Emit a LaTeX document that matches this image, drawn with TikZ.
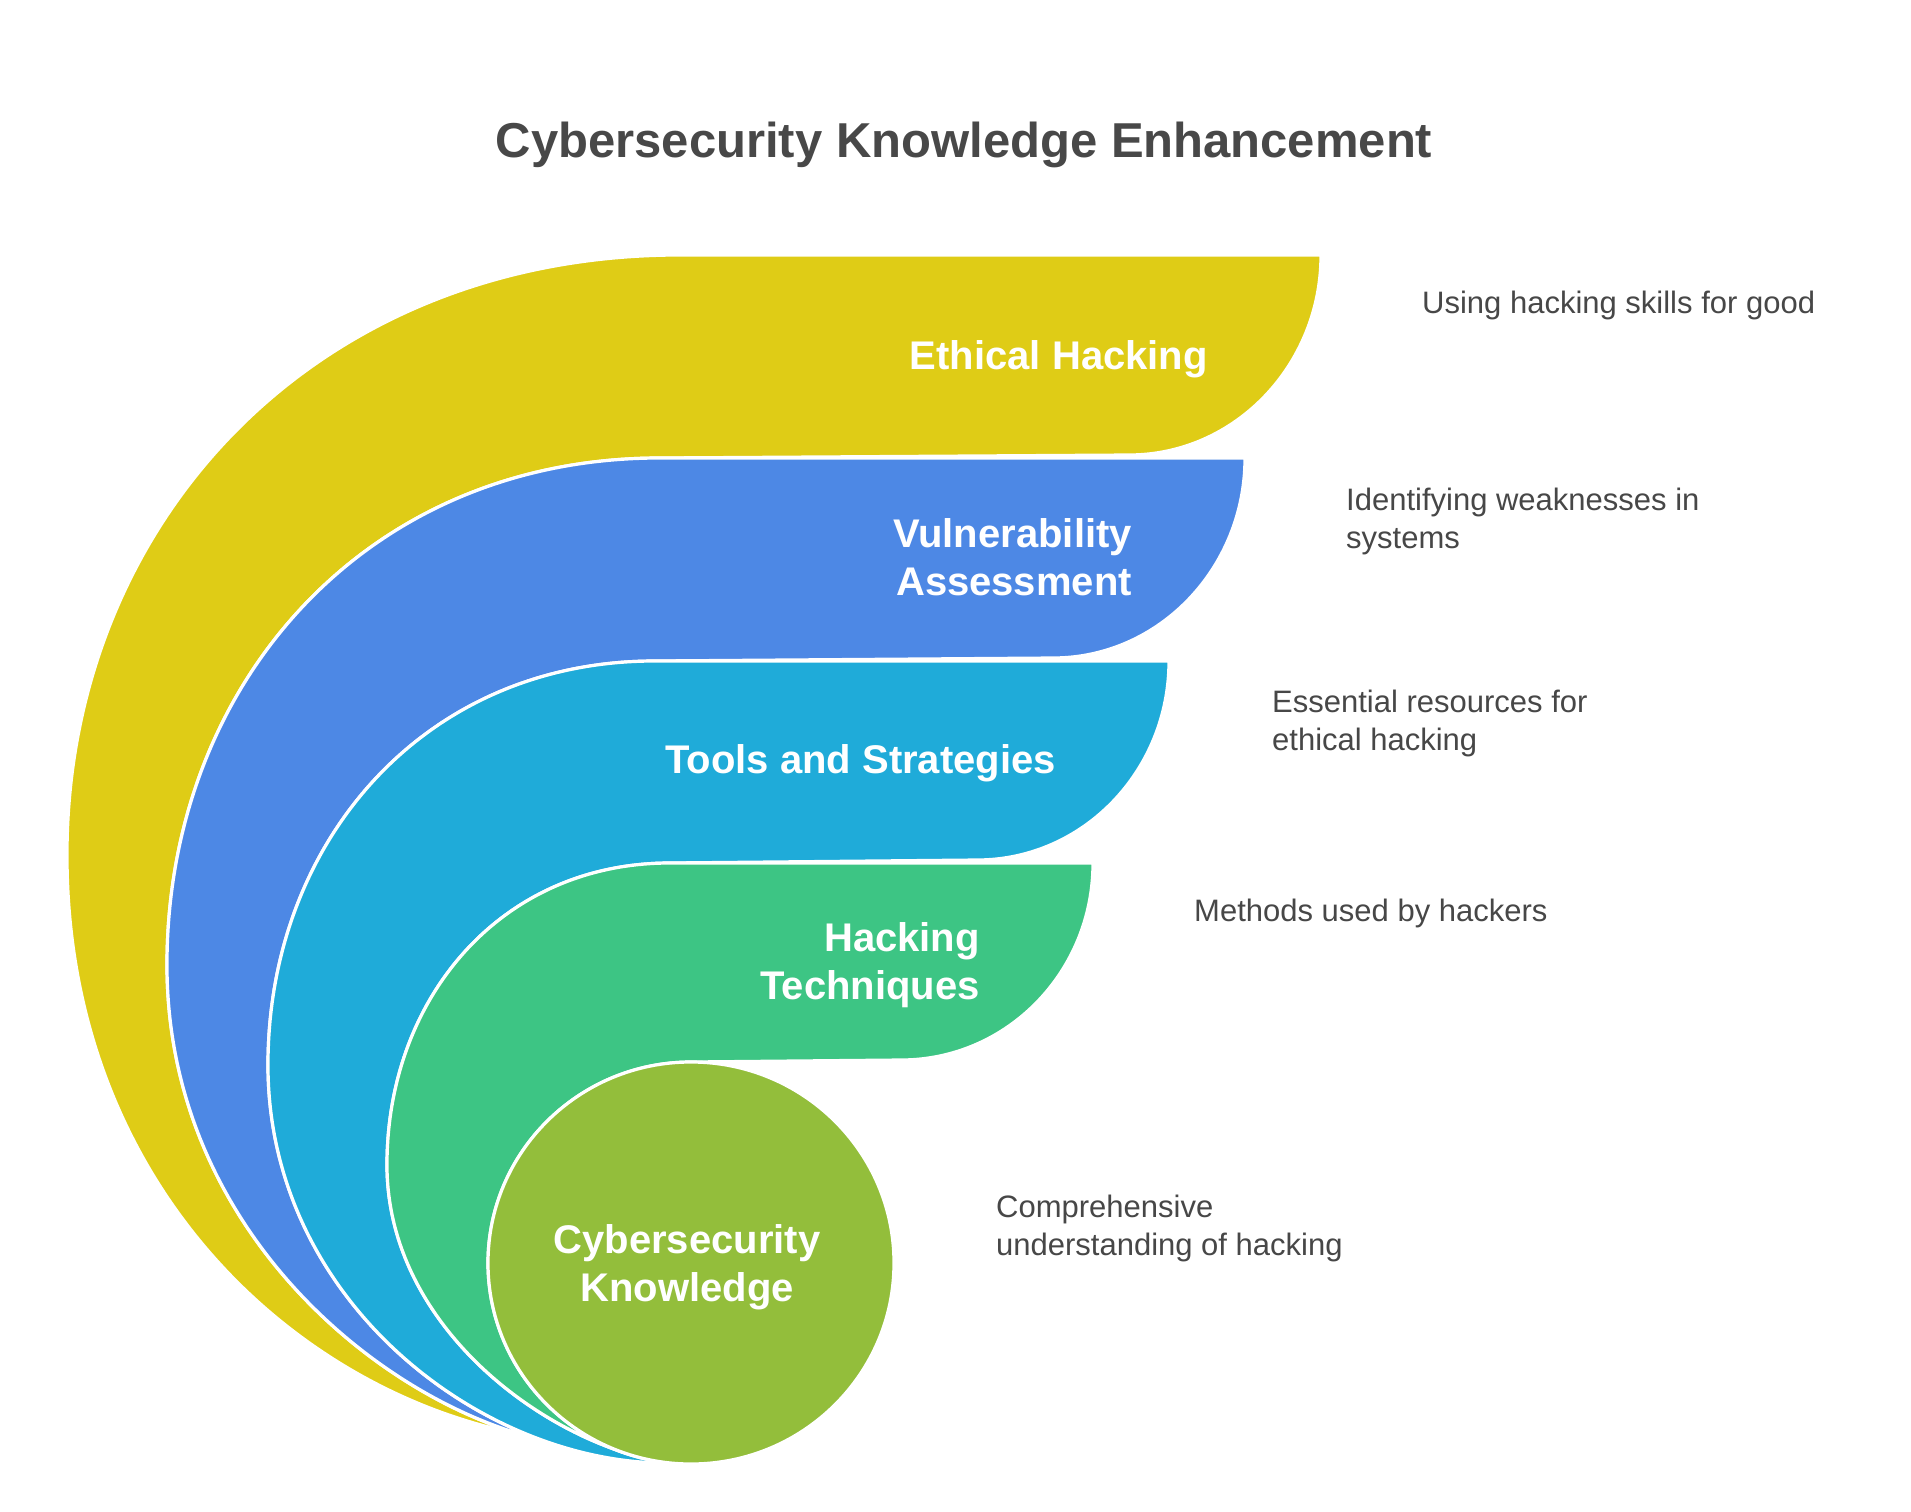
\documentclass[tikz,border=0pt]{standalone}
\usepackage{fontspec}
\setmainfont{Liberation Sans}
\definecolor{yel}{HTML}{DFCC16}
\definecolor{blu}{HTML}{4D88E5}
\definecolor{cya}{HTML}{1FABD9}
\definecolor{grn}{HTML}{3DC584}
\definecolor{oli}{HTML}{93BE3B}
\definecolor{ttl}{HTML}{484848}
\definecolor{txt}{HTML}{474747}
\begin{document}
\begin{tikzpicture}[x=1pt,y=-1pt,
  band/.style={draw=white, line width=3.2pt, line join=round},
  lbl/.style={text=white, inner sep=0pt, font=\bfseries\fontsize{40}{48.5}\selectfont},
  desc/.style={text=txt, inner sep=0pt, font=\fontsize{31}{38}\selectfont}]
\useasboundingbox (0,0) rectangle (1911,1512);
\fill[white] (0,0) rectangle (1911,1512);

% tip points on the following outlines
\path (268,1065) .. controls (268,1300) and (480,1462) .. (665,1463) coordinate[pos=0.78] (Btip);
\path (167,965) .. controls (167,1225) and (375,1400) .. (Btip) coordinate[pos=0.96] (Ytip);
\coordinate (Ctip) at (665,1463);
\coordinate (Gtip) at (632,1455);

% Ethical Hacking band
\path[band, fill=yel] (Ytip) .. controls (290,1390) and (67,1180) .. (67,855)
  .. controls (67,525) and (312,255) .. (680,255) -- (1321,255)
  .. controls (1321,365) and (1235,455) .. (1129,455) -- (660,458)
  .. controls (364,458) and (167,686) .. (167,965)
  .. controls (167,1225) and (375,1400) .. (Btip) -- cycle;

% Vulnerability Assessment band
\path[band, fill=blu] (Btip) .. controls (375,1400) and (167,1225) .. (167,965)
  .. controls (167,686) and (364,458) .. (660,458) -- (1245,458)
  .. controls (1245,568) and (1159,658) .. (1053,658) -- (655,661)
  .. controls (423,661) and (268,843) .. (268,1065)
  .. controls (268,1300) and (480,1462) .. (Ctip) -- cycle;

% Tools and Strategies band
\path[band, fill=cya] (Ctip) .. controls (480,1462) and (268,1300) .. (268,1065)
  .. controls (268,843) and (423,661) .. (655,661) -- (1169,661)
  .. controls (1169,771) and (1083,860) .. (977,860) -- (670,863)
  .. controls (500,863) and (387,999) .. (387,1165)
  .. controls (387,1310) and (515,1420) .. (Gtip) -- cycle;

% Hacking Techniques band
\path[band, fill=grn] (Gtip) .. controls (515,1420) and (387,1310) .. (387,1165)
  .. controls (387,999) and (500,863) .. (670,863) -- (1093,863)
  .. controls (1093,972) and (1007,1060) .. (901,1060) -- (691,1062)
  .. controls (579,1062) and (488,1152) .. (488,1263)
  .. controls (488,1374) and (579,1464) .. (691,1464) -- cycle;

% Cybersecurity Knowledge circle
\path[band, fill=oli] (691,1263) ellipse [x radius=203pt, y radius=201pt];

% title
\node[anchor=base, inner sep=0pt, text=ttl, font=\bfseries\fontsize{49}{58}\selectfont] (title) at (964,157) {Cybersecurity Knowledge Enhancement};

% band labels
\node[lbl, anchor=base east] (eh) at (1208,369) {Ethical Hacking};
\node[lbl, anchor=base east] (va) at (1132,547) {\begin{tabular}[t]{@{}r@{}}Vulnerability\\Assessment\end{tabular}};
\node[lbl, anchor=base east] (ts) at (1056,773) {Tools and Strategies};
\node[lbl, anchor=base east] (ht) at (980,951) {\begin{tabular}[t]{@{}r@{}}Hacking\\Techniques\end{tabular}};
\node[lbl, anchor=base] (ck) at (687,1253) {\begin{tabular}[t]{@{}c@{}}Cybersecurity\\Knowledge\end{tabular}};

% descriptions
\node[desc, anchor=base west] (d1) at (1422,313) {Using hacking skills for good};
\node[desc, anchor=base west] (d2) at (1346,510) {\begin{tabular}[t]{@{}l@{}}Identifying weaknesses in\\systems\end{tabular}};
\node[desc, anchor=base west] (d3) at (1272,712) {\begin{tabular}[t]{@{}l@{}}Essential resources for\\ethical hacking\end{tabular}};
\node[desc, anchor=base west] (d4) at (1194,921) {Methods used by hackers};
\node[desc, anchor=base west] (d5) at (996,1217) {\begin{tabular}[t]{@{}l@{}}Comprehensive\\understanding of hacking\end{tabular}};
\end{tikzpicture}
\end{document}
